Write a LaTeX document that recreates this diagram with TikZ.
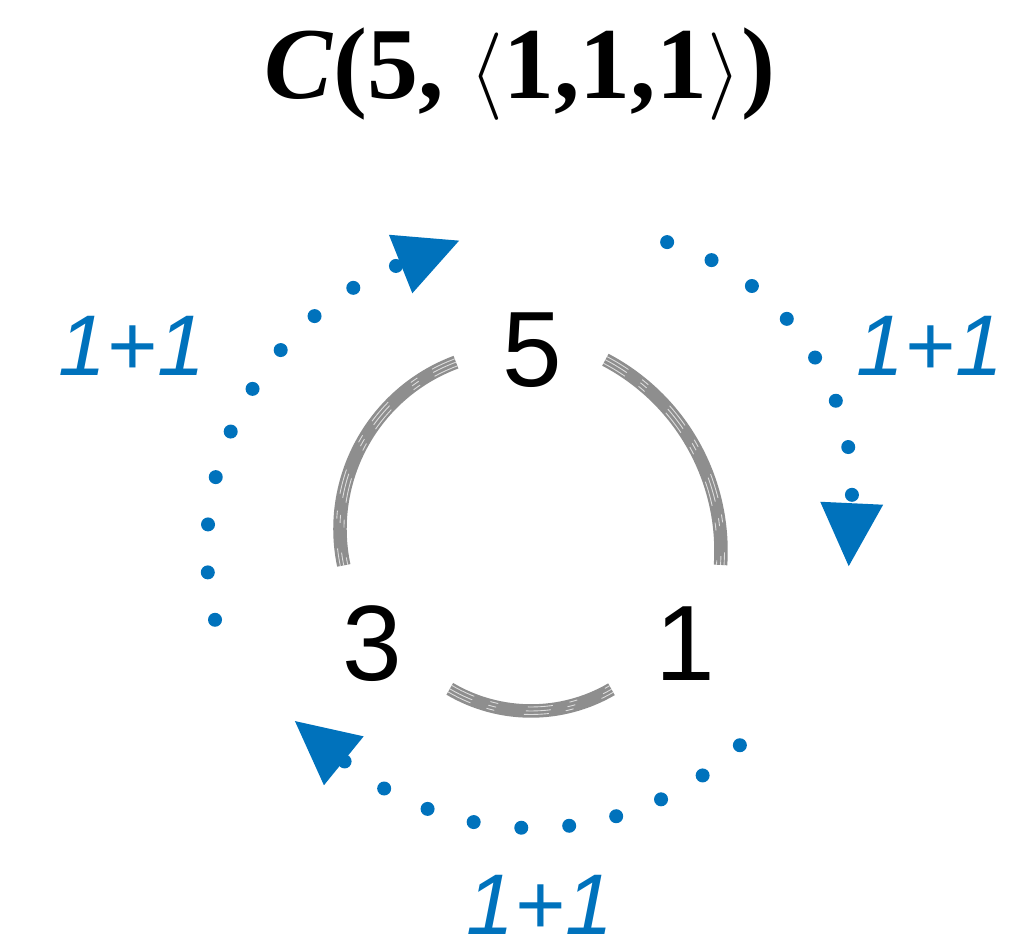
\documentclass[tikz,border=0pt]{standalone}
\usepackage{fontspec}
\setmainfont{Liberation Serif}
\newfontfamily\numfont{Liberation Sans}
\usetikzlibrary{arrows.meta}
\definecolor{cblue}{HTML}{0072BC}
\definecolor{cgray}{HTML}{8E8E8E}

\begin{document}
\begin{tikzpicture}[
  num/.style={inner sep=0pt, font=\numfont\fontsize{30.5}{36}\selectfont},
  lbl/.style={inner sep=0pt, text=cblue, font=\numfont\itshape\fontsize{24.5}{30}\selectfont},
  ring/.style={draw=cgray, line width=1.35mm},
  grain/.style={draw=white, line width=0.25pt, opacity=0.7, dash pattern=on 2.5mm off 1.7mm on 0.8mm off 3mm},
  flow/.style={draw=cblue, line width=1.4mm, line cap=round, dash pattern=on 0pt off 4.8mm,
    -{Triangle[length=6.3mm, width=6.3mm, line width=0pt]}}
]
  \useasboundingbox (0,0) rectangle (10.15,9.49);

  % Title
  \node[anchor=base, inner sep=0pt, font=\bfseries\fontsize{29}{35}\selectfont] (title) at (5.20, 8.50)
    {\textit{C}(5, $\langle$1,1,1$\rangle$)};

  % Numbers
  \node[num] (n5) at (5.32, 5.99) {5};
  \node[num] (n3) at (3.72, 3.05) {3};
  \node[num] (n1) at (6.85, 3.05) {1};

  % Centres of the arcs
  \coordinate (gl) at (5.18, 4.20);
  \coordinate (gr) at (5.05, 3.98);
  \coordinate (gb) at (5.31, 3.98);
  \coordinate (bl) at (5.15, 3.99);
  \coordinate (br) at (5.92, 4.58);
  \coordinate (bb) at (5.33, 4.21);

  % Gray ring between the numbers
  \draw[ring] ([shift={(110.4:1.78)}]gl) arc[start angle=110.4, end angle=191.8, radius=1.78];
  \draw[ring] ([shift={(62.3:2.16)}]gr) arc[start angle=62.3, end angle=-3.7, radius=2.16];
  \draw[ring] ([shift={(-120.5:1.60)}]gb) arc[start angle=-120.5, end angle=-59.8, radius=1.60];
  \foreach \d in {-0.04, 0, 0.035} {
    \draw[grain] ([shift={(110.4:1.78+\d)}]gl) arc[start angle=110.4, end angle=191.8, radius=1.78+\d];
    \draw[grain] ([shift={(62.3:2.16+\d)}]gr) arc[start angle=62.3, end angle=-3.7, radius=2.16+\d];
    \draw[grain] ([shift={(-120.5:1.60+\d)}]gb) arc[start angle=-120.5, end angle=-59.8, radius=1.60+\d];
  }

  % Dotted flows (last straight piece = arrow head along the tangent)
  \draw[flow] ([shift={(193.1:3.08)}]bl) arc[start angle=193.1, end angle=111.8, radius=3.08] -- ++(21.8:0.63);
  \draw[flow] ([shift={(73.2:2.60)}]br) arc[start angle=73.2, end angle=-2.7, radius=2.60] -- ++(-92.7:0.63);
  \draw[flow] ([shift={(-46.4:3.00)}]bb) arc[start angle=-46.4, end angle=-129.1, radius=3.00] -- ++(140.9:0.63);

  % Labels
  \node[lbl] (l35) at (1.32, 6.03) {1+1};
  \node[lbl] (l51) at (9.30, 6.03) {1+1};
  \node[lbl] (l13) at (5.40, 0.44) {1+1};

\end{tikzpicture}
\end{document}
